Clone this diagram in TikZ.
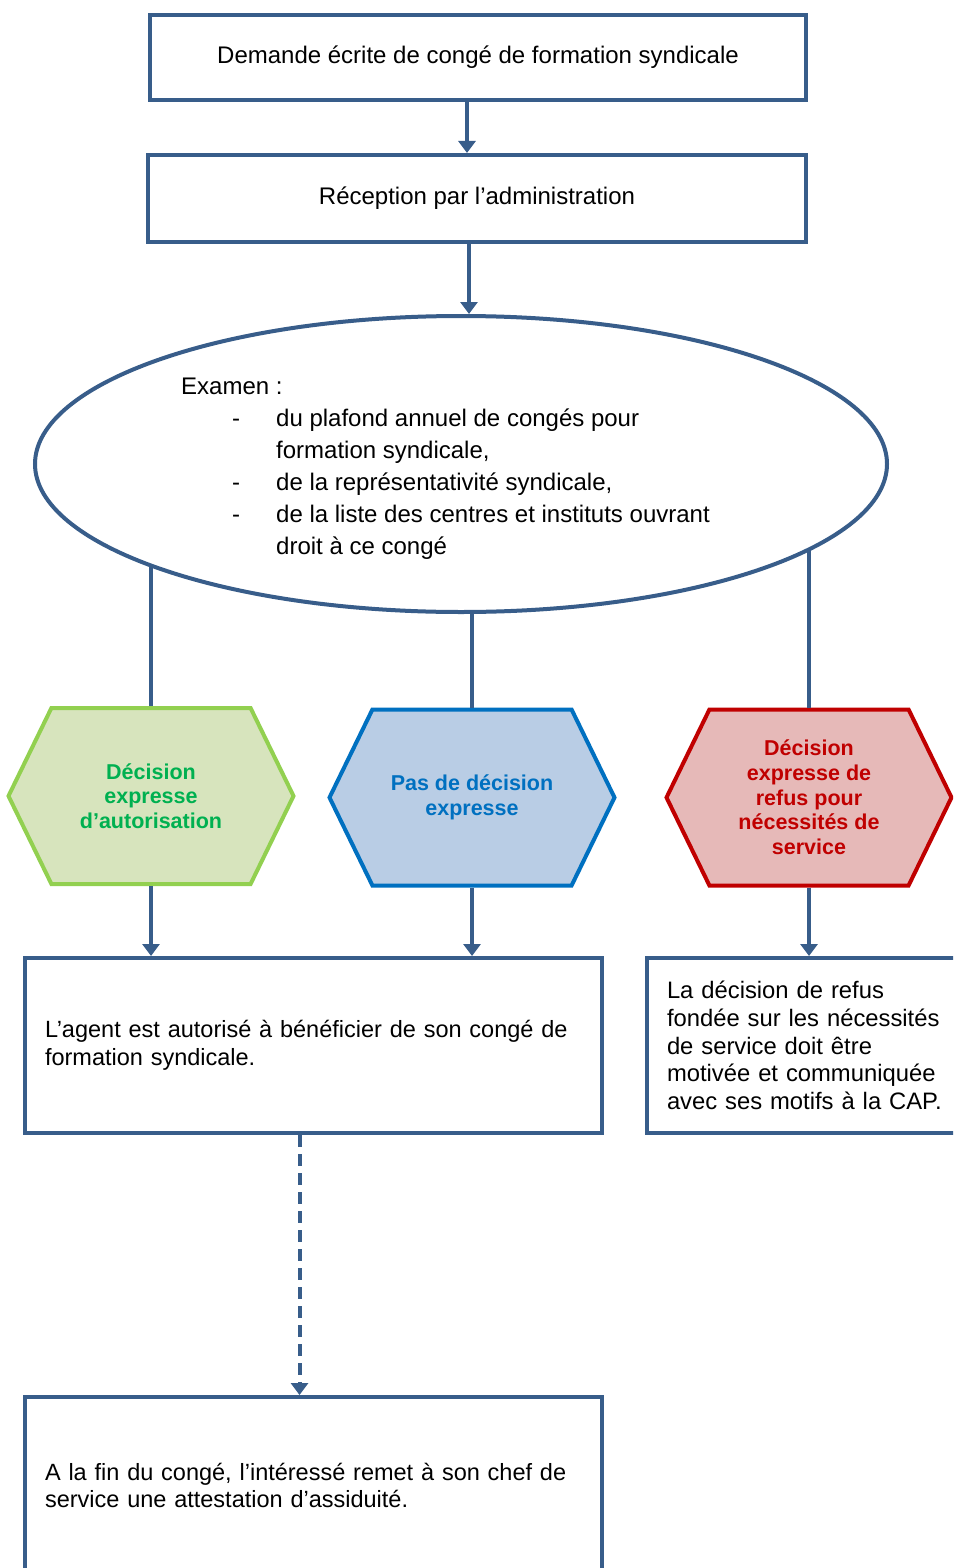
\documentclass[tikz,border=0pt]{standalone}
\usepackage{fontspec}
\setmainfont{Liberation Sans}
\usetikzlibrary{arrows.meta,shapes.symbols,shapes.geometric}
\definecolor{frame-blue}{HTML}{385D8A}
\definecolor{ok-line}{HTML}{92D050}
\definecolor{ok-fill}{HTML}{D7E4BD}
\definecolor{ok-text}{HTML}{00B050}
\definecolor{none-line}{HTML}{0070C0}
\definecolor{none-fill}{HTML}{B9CDE5}
\definecolor{no-line}{HTML}{C00000}
\definecolor{no-fill}{HTML}{E6B9B8}

\tikzset{
  box/.style={draw=frame-blue, line width=4pt, inner sep=0pt},
  hexa/.style={shape=signal, signal from=nowhere, signal to=east and west, signal pointer angle=128,
    minimum width=285pt, minimum height=176pt, line width=4pt, inner sep=0pt,
    align=center, font=\fontsize{21.5}{24.7}\selectfont\bfseries},
  link/.style={draw=frame-blue, line width=4pt},
  arr/.style={link, -{Triangle[width=17pt,length=12pt]}}
}

\begin{document}
\begin{tikzpicture}[x=1pt, y=-1pt, every node/.style={font=\fontsize{24}{27.6}\selectfont}]
    \path[use as bounding box, fill=white] (0,0) rectangle (953,1568);
    \clip (0,0) rectangle (953,1568);

    \node[box, minimum width=656pt, minimum height=85pt] (demande) at (478,57.5)
      {Demande écrite de congé de formation syndicale};
    \node[box, minimum width=658pt, minimum height=87pt] (reception) at (477,198.5)
      {Réception par l’administration};
    \node[draw=frame-blue, line width=4pt, ellipse, minimum width=852pt, minimum height=296pt] (examen) at (461,464) {};
    \node[anchor=west, inner sep=0pt, font=\fontsize{24}{32}\selectfont] (liste) at (181,468)
      {\begin{tabular}{@{\hspace{51pt}}p{44pt}@{}l@{}}
        \multicolumn{2}{@{}l@{}}{Examen :}\\
        - & du plafond annuel de congés pour\\
          & formation syndicale,\\
        - & de la représentativité syndicale,\\
        - & de la liste des centres et instituts ouvrant\\
          & droit à ce congé
       \end{tabular}};

    \node[hexa, draw=ok-line, fill=ok-fill, text=ok-text] (autorisation) at (151,796)
      {Décision\\expresse\\d’autorisation};
    \node[hexa, draw=none-line, fill=none-fill, text=none-line] (silence) at (472,797.5)
      {Pas de décision\\expresse};
    \node[hexa, draw=no-line, fill=no-fill, text=no-line] (refus) at (809,797.5)
      {Décision\\expresse de\\refus pour\\nécessités de\\service};

    \node[box, minimum width=577pt, minimum height=175pt, text width=537pt, align=left,
      font=\fontsize{23.5}{27.6}\selectfont] (agent) at (313.5,1045.5)
      {L’agent est autorisé à bénéficier de son congé de\\formation syndicale.};
    \node[box, minimum width=326pt, minimum height=175pt, text width=286pt, align=left,
      font=\fontsize{23.8}{27.6}\selectfont] (motifs) at (810,1045.5)
      {La décision de refus\\fondée sur les nécessités\\de service doit être\\motivée et communiquée\\avec ses motifs à la CAP.};
    \node[box, minimum width=577pt, minimum height=177pt, text width=537pt, align=left,
      font=\fontsize{23.5}{27.6}\selectfont] (attestation) at (313.5,1485.5)
      {A la fin du congé, l’intéressé remet à son chef de\\service une attestation d’assiduité.};

    \draw[arr] ([xshift=-11pt]demande.south) -- ([xshift=-11pt]demande.south |- reception.north);
    \draw[arr] ([xshift=-8pt]reception.south) -- ([xshift=-8pt]reception.south |- examen.north);
    \draw[link] (autorisation.north |- examen.198) -- (autorisation.north);
    \draw[link] (silence.north |- examen.273) -- (silence.north);
    \draw[link] (refus.north |- examen.346) -- (refus.north);
    \draw[arr] (autorisation.south) -- (autorisation.south |- agent.north);
    \draw[arr] (silence.south) -- (silence.south |- agent.north);
    \draw[arr] (refus.south) -- (refus.south |- motifs.north);
    \draw[arr, dash pattern=on 12pt off 7pt] ([xshift=-14pt]agent.south) -- ([xshift=-14pt]agent.south |- attestation.north);
  \end{tikzpicture}
\end{document}
